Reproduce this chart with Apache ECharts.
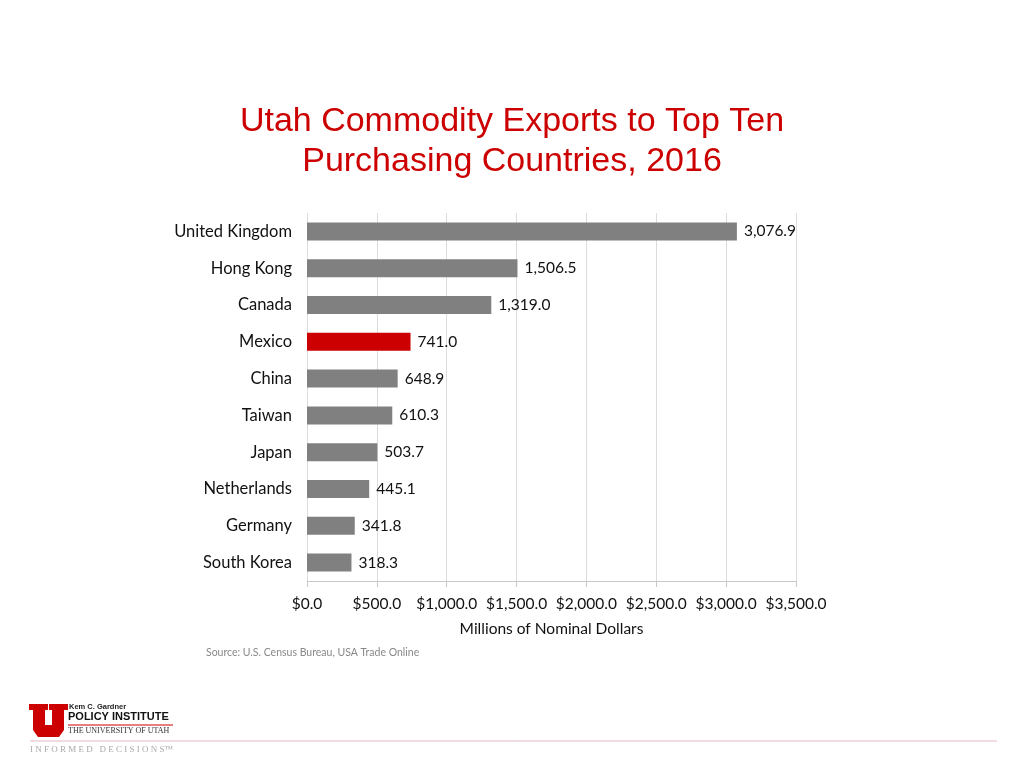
<!DOCTYPE html>
<html><head><meta charset="utf-8">
<script src="https://cdn.jsdelivr.net/npm/echarts@6/dist/echarts.min.js"></script>
<style>html,body{margin:0;padding:0;background:#fff}#c{width:1024px;height:768px}</style>
</head><body><div id="c"></div>
<script>
const countries = ["United Kingdom","Hong Kong","Canada","Mexico","China","Taiwan","Japan","Netherlands","Germany","South Korea"];
const exportsMillions = [3076.9,1506.5,1319.0,741.0,648.9,610.3,503.7,445.1,341.8,318.3];
const highlightCountry = "Mexico";
const xTicks = [0,500,1000,1500,2000,2500,3000,3500];

const fmt1 = v => v.toLocaleString('en-US',{minimumFractionDigits:1,maximumFractionDigits:1});
const FONT = 'Lato';

const chart = echarts.init(document.getElementById('c'));
chart.setOption({
  backgroundColor:'#fff',
  animation:false,
  title:{
    text:'Utah Commodity Exports to Top Ten\nPurchasing Countries, 2016',
    left:'center', top:97,
    textStyle:{color:'#CC0000',fontFamily:'Liberation Sans',fontSize:34,fontWeight:'normal',lineHeight:40}
  },
  grid:{left:307,right:228,top:213,bottom:187,containLabel:false},
  xAxis:{
    type:'value',min:xTicks[0],max:xTicks[xTicks.length-1],interval:500,
    axisLine:{show:true,lineStyle:{color:'#c8c8c8'}},
    axisTick:{show:true,length:6,lineStyle:{color:'#c8c8c8'}},
    splitLine:{show:true,lineStyle:{color:'#dcdcdc'}},
    axisLabel:{margin:15,color:'#111',fontFamily:FONT,fontSize:15.5,formatter:v=>'$'+fmt1(v)},
    name:'Millions of Nominal Dollars',nameLocation:'middle',nameGap:40,
    nameTextStyle:{color:'#111',fontFamily:FONT,fontSize:15.5}
  },
  yAxis:{
    type:'category',data:countries,inverse:true,
    axisLine:{show:false},axisTick:{show:false},
    axisLabel:{margin:15,color:'#111',fontFamily:FONT,fontSize:16.5}
  },
  series:[{
    type:'bar',barWidth:18,
    data:exportsMillions.map((v,i)=>({value:v,itemStyle:{color:countries[i]===highlightCountry?'#CC0000':'#808080'}})),
    label:{show:true,position:'right',distance:7,color:'#111',fontFamily:FONT,fontSize:15.5,formatter:p=>fmt1(p.value)}
  }],
  graphic:[
    {type:'text',left:206,top:647,style:{text:'Source: U.S. Census Bureau, USA Trade Online',fill:'#888',font:'10.5px Lato'}},
    {type:'polygon',shape:{points:[[29,704],[48,704],[48,710],[45,710],[45,725],[52,725],[52,710],[49,710],[49,704],[68,704],[68,710],[64,710],[64,730],[59,737],[38,737],[33,730],[33,710],[29,710]]},style:{fill:'#CC0000'}},
    {type:'text',x:69,y:703,style:{text:'Kem C. Gardner',fill:'#222',font:'bold 7.5px Liberation Sans Narrow, Liberation Sans'}},
    {type:'text',x:68,y:711,style:{text:'POLICY INSTITUTE',fill:'#111',font:'bold 11px Liberation Sans'}},
    {type:'line',shape:{x1:68,y1:725,x2:173,y2:725},style:{stroke:'#CC0000',lineWidth:1}},
    {type:'text',x:68,y:727,style:{text:'THE UNIVERSITY OF UTAH',fill:'#333',font:'8px Liberation Serif'}},
    {type:'line',shape:{x1:30,y1:741,x2:997,y2:741},style:{stroke:'#e3b8c8',lineWidth:1}},
    {type:'text',x:30,y:745,style:{text:'I N F O R M E D   D E C I S I O N S™',fill:'#aaa',font:'9px Liberation Serif'}}
  ]
});
</script></body></html>
